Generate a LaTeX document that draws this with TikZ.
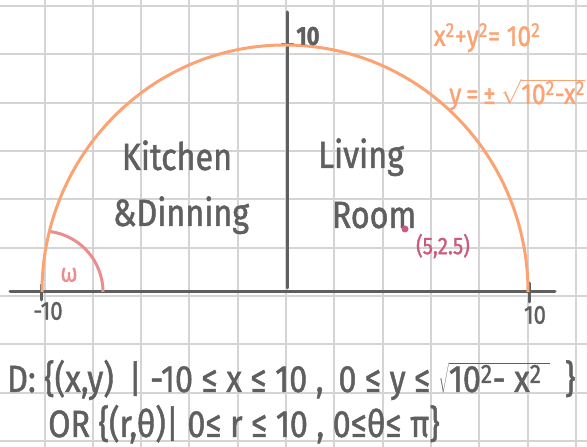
\documentclass[tikz,border=0pt]{standalone}
\usepackage{fontspec}
\setmainfont{Fira Sans}
\newfontfamily\handfont[FakeStretch=0.85,FakeBold=1.2]{Fira Sans}
\usepackage{xcolor}
\usetikzlibrary{positioning}

\definecolor{gridgray}{RGB}{212,212,212}
\definecolor{inkgray}{RGB}{95,95,95}
\definecolor{curveorange}{RGB}{252,163,115}
\definecolor{anglepink}{RGB}{232,142,142}
\definecolor{pointpink}{RGB}{205,90,125}
\newcommand{\rootof}[1]{$\sqrt{\mbox{#1}}$}
\newcommand{\sq}{\textsuperscript{2}}

\begin{document}
\begin{tikzpicture}[
    x=1pt, y=1pt,
    gridline/.style={draw=gridgray, line width=2pt},
    axisline/.style={draw=inkgray, line width=3pt, line cap=round},
    halfcircle/.style={draw=curveorange, line width=3pt},
    anglearc/.style={draw=anglepink, line width=3pt},
    hand/.style={inner sep=0pt, text=inkgray, font=\handfont\fontsize{38}{42}\selectfont},
    ticklabel/.style={inner sep=0pt, text=inkgray, font=\handfont\fontsize{26}{30}\selectfont},
    eqn/.style={inner sep=0pt, text=curveorange, font=\handfont\fontsize{29}{32}\selectfont},
    settext/.style={inner sep=0pt, text=inkgray, anchor=base west, font=\handfont\fontsize{38}{42}\selectfont}
]
\useasboundingbox (0,0) rectangle (587,447);
\fill[white] (0,0) rectangle (587,447);
% grid paper
\foreach \k in {-6,...,6} \draw[gridline] (286+48.3*\k,0) -- (286+48.3*\k,447);
\foreach \k in {-3,...,6} \draw[gridline] (0,151+48.3*\k) -- (587,151+48.3*\k);

% axes
\coordinate (O) at (285,155);
\coordinate (xl) at (10,155);
\coordinate (xr) at (555,155);
\coordinate (yb) at (287,159);
\coordinate (yt) at (287,435);
\draw[axisline] (xl) -- (xr);
\draw[axisline] (yb) -- (yt);
\draw[axisline] (41,147) -- (41,162);
\draw[axisline] (529,145) -- (529,164);
\draw[axisline] (282,402) -- (293,402);

% half circle and angle
\draw[halfcircle] (42,155) arc[start angle=180, end angle=0, x radius=243, y radius=247];
\draw[anglearc] (103,155) arc[start angle=0, end angle=82, radius=61];

% labels
\node[ticklabel] (ytop) at (308,411) {\bfseries 10};
\node[ticklabel] (xleft) at (48,136) {-10};
\node[ticklabel] (xright) at (535,132) {10};
\node[ticklabel, text=anglepink] (omega) at (69,172) {ω};
\node[hand, anchor=base] (kitchen) at (177,277) {Kitchen};
\node[hand, anchor=base] (dinning) at (181,221) {\&Dinning};
\node[hand, anchor=base] (living) at (361,279) {Living};
\node[hand, anchor=base] (room) at (374,219) {Room};
\fill[pointpink] (405,218) circle[radius=3.5pt] coordinate (pt);
\node[ticklabel, text=pointpink, font=\handfont\fontsize{24}{28}\selectfont] (ptlabel) at (443,201) {(5,2.5)};

% equations
\node[eqn, anchor=base] (circle) at (487,401) {x\sq+y\sq = 10\sq};
\node[eqn, anchor=base east] (root) at (585,343) {y\,=\,±\,\rootof{10\sq-x\sq}};

% domain
\node[settext] (cart) at (7,55) {D: \{(x,y)\, | -10 ≤ x ≤ 10 , \,0 ≤ y ≤ \rootof{10\sq - x\sq\ }\, \}};
\node[settext] (polar) at (48,10) {OR \{(r,θ)| 0≤ r ≤ 10 , 0≤θ≤ π\}};
\end{tikzpicture}
\end{document}
